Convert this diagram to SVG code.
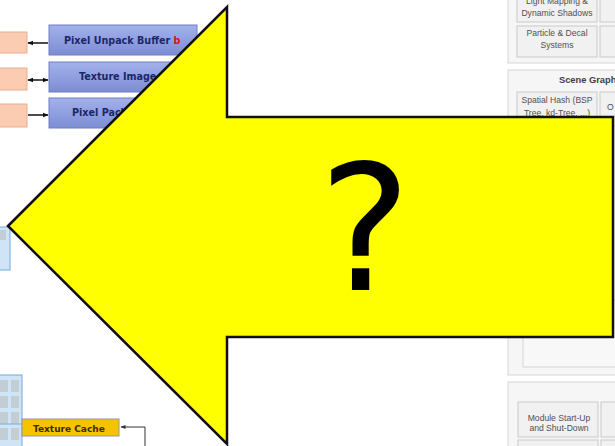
<svg xmlns="http://www.w3.org/2000/svg" width="615" height="446" viewBox="0 0 615 446">
<defs>
  <linearGradient id="blueG" x1="0" y1="0" x2="0" y2="1">
    <stop offset="0" stop-color="#a3b1ec"/>
    <stop offset="1" stop-color="#7d8dd4"/>
  </linearGradient>
  <marker id="ah" viewBox="0 0 10 10" refX="9" refY="5" markerWidth="6" markerHeight="6" orient="auto-start-reverse" markerUnits="userSpaceOnUse">
    <path d="M0,1 L10,5 L0,9 z" fill="#111"/>
  </marker>
  <marker id="ahs" viewBox="0 0 10 10" refX="9" refY="5" markerWidth="6" markerHeight="5" orient="auto" markerUnits="userSpaceOnUse">
    <path d="M0,1 L10,5 L0,9 z" fill="#333"/>
  </marker>
</defs>
<style>
  .peach{fill:#fbcbb2;stroke:#e9ad90;stroke-width:1}
  .blue{fill:url(#blueG);stroke:#6f7fc4;stroke-width:1}
  .bt{font-family:"DejaVu Sans",Verdana,sans-serif;font-weight:bold;font-size:9.6px;fill:#1b2768}
  .red{fill:#e01010}
  .conn{stroke:#111;stroke-width:1.5;fill:none}
  .panel{fill:#f6f6f6;stroke:#d6d6d6;stroke-width:1}
  .ibox{fill:#f1f1f1;stroke:#c9c9c9;stroke-width:1}
  .gt{font-family:"Liberation Sans",Arial,sans-serif;font-size:8.6px;fill:#505050;text-anchor:middle}
  .gtb{font-family:"Liberation Sans",Arial,sans-serif;font-size:9.3px;font-weight:bold;fill:#404040}
  .lb{fill:#cfe4f7;stroke:#86b6e0;stroke-width:1.2}
  .cell{fill:#c4ccd4}
  .tc{fill:#f5c300;stroke:#9a9a9a;stroke-width:1}
  .tct{font-family:"DejaVu Sans",Verdana,sans-serif;font-weight:bold;font-size:9px;fill:#3a2c00}
  .big{fill:#ffff00;stroke:#111;stroke-width:2.5;stroke-linejoin:miter}
  .q{font-family:"DejaVu Sans",sans-serif;font-size:174px;fill:#000;text-anchor:middle}
</style>
<rect width="615" height="446" fill="#ffffff"/>

<!-- left: buffer rows -->
<g id="peach1"><rect class="peach" x="-4" y="32" width="31" height="21"/></g>
<g id="peach2"><rect class="peach" x="-4" y="68" width="31" height="22"/></g>
<g id="peach3"><rect class="peach" x="-4" y="104" width="31" height="23"/></g>
<g id="pixel-unpack"><rect class="blue" x="49" y="25" width="148" height="30"/>
  <text class="bt" x="64" y="44">Pixel Unpack Buffer <tspan class="red">b</tspan></text></g>
<g id="texture-image"><rect class="blue" x="49" y="62" width="148" height="30"/>
  <text class="bt" x="79" y="80">Texture Image</text></g>
<g id="pixel-pack"><rect class="blue" x="49" y="98" width="148" height="30"/>
  <text class="bt" x="72" y="116">Pixel Pack Buffer <tspan class="red">b</tspan></text></g>

<g id="mid-left"><rect class="lb" x="-5" y="227" width="15" height="43"/>
  <rect class="cell" x="-2" y="230" width="8" height="10"/></g>

<g id="grid-left"><rect class="lb" x="-5" y="375" width="27" height="80"/>
  <rect class="cell" x="-1" y="380" width="9" height="12"/><rect class="cell" x="11" y="380" width="8" height="12"/>
  <rect class="cell" x="-1" y="396" width="9" height="12"/><rect class="cell" x="11" y="396" width="8" height="12"/>
  <rect class="cell" x="-1" y="412" width="9" height="12"/><rect class="cell" x="11" y="412" width="8" height="12"/>
  <rect class="cell" x="-1" y="428" width="9" height="12"/><rect class="cell" x="11" y="428" width="8" height="12"/>
  <line x1="-5" y1="424" x2="22" y2="424" stroke="#86b6e0" stroke-width="1.2"/></g>
<g id="texture-cache"><rect class="tc" x="22" y="419" width="97" height="17"/>
  <text class="tct" x="33" y="431.5">Texture Cache</text></g>

<!-- right: engine panels -->
<g id="panel-top"><rect class="panel" x="508" y="-6" width="115" height="69"/>
  <rect class="ibox" x="517" y="-12" width="80" height="34"/>
  <text class="gt" x="557" y="4">Light Mapping &amp;</text>
  <text class="gt" x="557" y="16">Dynamic Shadows</text>
  <rect class="ibox" x="600" y="-12" width="30" height="34"/>
  <rect class="ibox" x="517" y="26" width="80" height="31"/>
  <text class="gt" x="557" y="36">Particle &amp; Decal</text>
  <text class="gt" x="557" y="48">Systems</text>
  <rect class="ibox" x="600" y="26" width="30" height="31"/></g>
<g id="panel-scene"><rect class="panel" x="508" y="70" width="115" height="305"/>
  <text class="gtb" x="559" y="83">Scene Graph</text>
  <rect class="ibox" x="517" y="92" width="80" height="34"/>
  <text class="gt" x="557" y="103">Spatial Hash  (BSP</text>
  <text class="gt" x="557" y="116">Tree, kd-Tree, ...)</text>
  <rect class="ibox" x="600" y="92" width="30" height="34"/>
  <text class="gt" x="607" y="110" style="text-anchor:start">O</text>
  <rect class="panel" x="523" y="300" width="100" height="67" style="fill:#f8f8f8"/></g>
<g id="panel-bottom"><rect class="panel" x="508" y="382" width="115" height="80"/>
  <rect class="ibox" x="518" y="402" width="80" height="35"/>
  <text class="gt" x="559" y="421">Module Start-Up</text>
  <text class="gt" x="559" y="431">and Shut-Down</text>
  <rect class="ibox" x="601" y="402" width="30" height="35"/>
  <rect class="ibox" x="518" y="440" width="80" height="20"/>
  <rect class="ibox" x="601" y="440" width="30" height="20"/></g>

<!-- connectors -->
<g id="connectors">
  <line class="conn" x1="48" y1="43" x2="28" y2="43" marker-end="url(#ah)"/>
  <line class="conn" x1="28" y1="80" x2="48" y2="80" marker-start="url(#ah)" marker-end="url(#ah)"/>
  <line class="conn" x1="28" y1="115" x2="48" y2="115" marker-end="url(#ah)"/>
  <polyline points="145,448 145,427 121,427" fill="none" stroke="#333" stroke-width="1" marker-end="url(#ahs)"/>
</g>

<!-- big question arrow -->
<g id="question-arrow">
  <polygon class="big" points="8,226 227,7 227,117 613,117 613,337 227,337 227,444"/>
  <text class="q" x="365" y="290">?</text>
</g>
</svg>
